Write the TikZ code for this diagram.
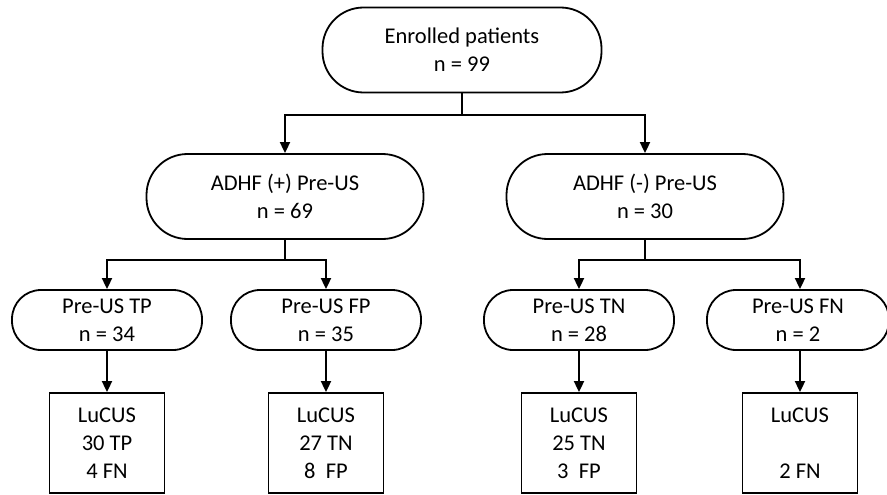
\documentclass[tikz,border=0pt]{standalone}
\usepackage{fontspec}
\setmainfont{Carlito}
\usetikzlibrary{arrows.meta}
\begin{document}
\begin{tikzpicture}[x=1pt,y=-1pt,
  every node/.style={font=\fontsize{22.5}{28}\selectfont, align=center, inner sep=0pt},
  arr/.style={draw, line width=1.8pt, -{Triangle[length=11pt,width=10pt]}},
  pillbig/.style={draw, line width=1.8pt, minimum width=277pt, minimum height=85pt, rounded corners=41pt},
  pillsmall/.style={draw, line width=1.8pt, minimum width=190pt, minimum height=60pt, rounded corners=29pt},
  resbox/.style={draw, line width=1.8pt, minimum width=115pt, minimum height=100pt}
]
\useasboundingbox (0,0) rectangle (887,495);

\node[pillbig, minimum width=279pt] (top) at (462,50) {Enrolled patients\\n = 99};

\node[pillbig] (adp) at (285,196.5) {ADHF (+) Pre-US\\n = 69};
\node[pillbig] (adn) at (645,196.5) {ADHF (-) Pre-US\\n = 30};

\node[pillsmall] (tp) at (107,320) {Pre-US TP\\n = 34};
\node[pillsmall] (fp) at (326,320) {Pre-US FP\\n = 35};
\node[pillsmall] (tn) at (579,320) {Pre-US TN\\n = 28};
\node[pillsmall, minimum width=182pt] (fn) at (798,320) {Pre-US FN\\n = 2};

\node[resbox] (btp) at (107,443) {LuCUS\\30 TP\\4 FN};
\node[resbox] (bfp) at (326,443) {LuCUS\\27 TN\\8\ \ FP};
\node[resbox] (btn) at (579,443) {LuCUS\\25 TN\\3\ \ FP};
\node[resbox] (bfn) at (800,443) {LuCUS\\\strut\\2 FN};

\coordinate (j1) at (462,115);
\path[arr] (top.south) -- (j1) -| (adp.north);
\path[arr] (top.south) -- (j1) -| (adn.north);

\coordinate (j2) at (285,260);
\path[arr] (adp.south) -- (j2) -| (tp.north);
\path[arr] (adp.south) -- (j2) -| (fp.north);

\coordinate (j3) at (645,260);
\path[arr] (adn.south) -- (j3) -| (tn.north);
\path[arr] (adn.south) -- (j3) -| (bfn.north |- fn.north);

\path[arr] (tp.south) -- (btp.north);
\path[arr] (fp.south) -- (bfp.north);
\path[arr] (tn.south) -- (btn.north);
\path[arr] (bfn.north |- fn.south) -- (bfn.north);
\end{tikzpicture}
\end{document}
